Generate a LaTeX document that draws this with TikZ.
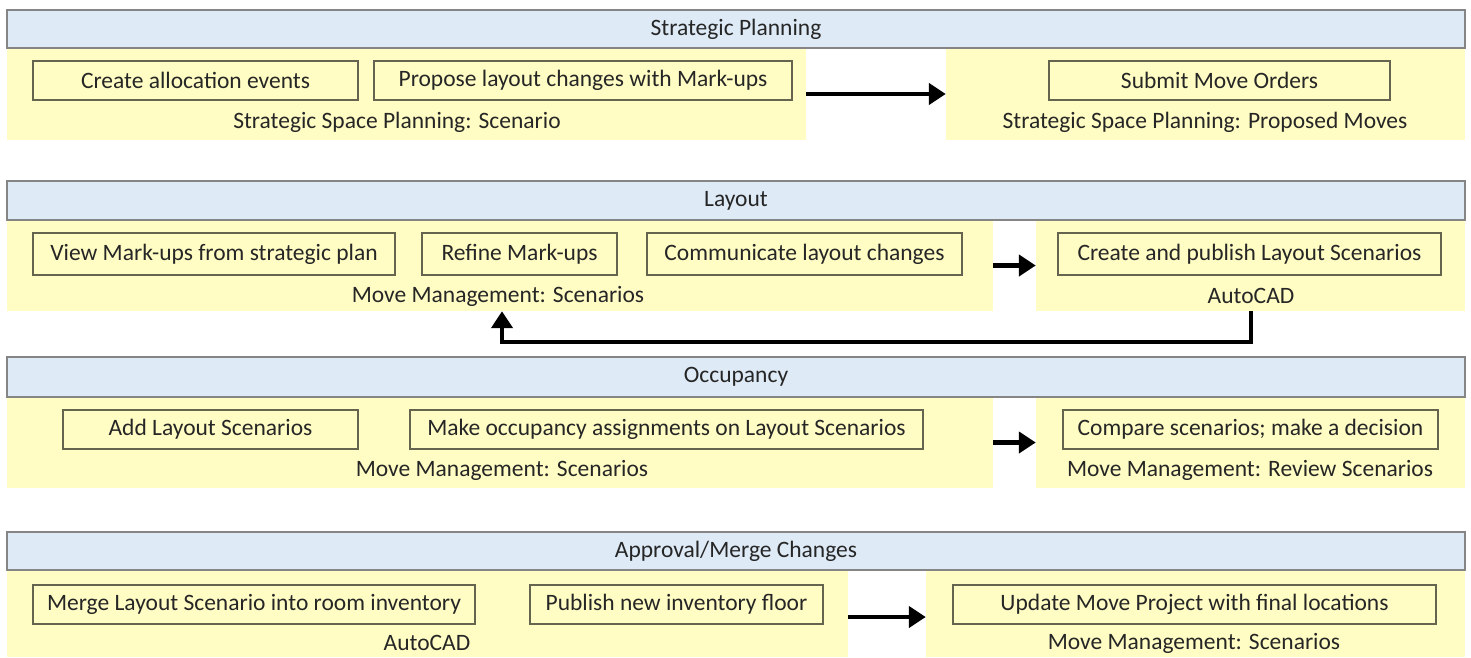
\documentclass[tikz,border=0pt]{standalone}
\usepackage{fontspec}
\setmainfont{Carlito}
\usetikzlibrary{arrows.meta}
\definecolor{hdrblue}{HTML}{DEEAF6}
\definecolor{hdrline}{HTML}{858585}
\definecolor{bandyellow}{HTML}{FFFDC4}
\definecolor{boxline}{HTML}{65654F}
\definecolor{txt}{HTML}{262626}
\tikzset{
  fnt/.style={font=\fontsize{23.5}{26}\selectfont},
  hdr/.style={draw=hdrline, line width=1.6pt, fill=hdrblue, inner sep=0pt, text=txt, fnt},
  band/.style={fill=bandyellow, draw=none, inner sep=0pt},
  task/.style={draw=boxline, line width=1.3pt, fill=bandyellow, inner sep=0pt, text=txt, fnt},
  lbl/.style={inner sep=1pt, text=txt, fnt},
  flow/.style={line width=4.8pt, -{Triangle[length=17pt,width=21pt]}},
}
% \rectnode{style}{name}{x1}{y1}{x2}{y2}{text}
\newcommand\rectnode[7]{%
  \node[#1, minimum width={(#5-#3)*1pt}, minimum height={(#6-#4)*1pt}] (#2) at ({(#3+#5)/2},{(#4+#6)/2}) {#7};}
\begin{document}
\begin{tikzpicture}[x=1pt,y=-1pt]
\useasboundingbox (0,0) rectangle (1471,657);
% ---------- Section 1
\rectnode{band}{b1l}{7}{48}{806}{140}{}
\rectnode{band}{b1r}{946}{48}{1465}{140}{}
\rectnode{hdr}{h1}{7}{10}{1465}{48}{Strategic Planning}
\rectnode{task}{t11}{33}{61}{358}{100}{Create allocation events}
\rectnode{task}{t12}{374}{61}{792}{100}{Propose layout changes with Mark-ups}
\rectnode{task}{t13}{1049}{61}{1390}{100}{Submit Move Orders}
\node[lbl] (l11) at (397,122) {Strategic Space Planning: Scenario};
\node[lbl] (l12) at (1205,122) {Strategic Space Planning: Proposed Moves};
\draw[flow] (b1l.east) -- (b1r.west);
% ---------- Section 2
\rectnode{band}{b2l}{7}{220}{993}{311}{}
\rectnode{band}{b2r}{1036}{220}{1465}{311}{}
\rectnode{hdr}{h2}{7}{181}{1465}{220}{Layout}
\rectnode{task}{t21}{33}{233}{395}{275}{View Mark-ups from strategic plan}
\rectnode{task}{t22}{422}{233}{617}{275}{Refine Mark-ups}
\rectnode{task}{t23}{647}{233}{962}{275}{Communicate layout changes}
\rectnode{task}{t24}{1058}{233}{1441}{275}{Create and publish Layout Scenarios}
\node[lbl] (l21) at (498,296) {Move Management: Scenarios};
\node[lbl] (l22) at (1251,296) {AutoCAD};
\draw[flow] (b2l.east) -- (b2r.west);
\coordinate (fb) at (502,342);
\draw[flow] (b2r.south -| l22) |- (fb) -- (b2l.south -| fb);
% ---------- Section 3
\rectnode{band}{b3l}{7}{397}{993}{488}{}
\rectnode{band}{b3r}{1036}{397}{1465}{488}{}
\rectnode{hdr}{h3}{7}{357}{1465}{397}{Occupancy}
\rectnode{task}{t31}{63}{410}{358}{449}{Add Layout Scenarios}
\rectnode{task}{t32}{410}{410}{923}{449}{Make occupancy assignments on Layout Scenarios}
\rectnode{task}{t33}{1063}{410}{1438}{449}{Compare scenarios; make a decision}
\node[lbl] (l31) at (502,470) {Move Management: Scenarios};
\node[lbl] (l32) at (1250,470) {Move Management: Review Scenarios};
\draw[flow] (b3l.east) -- (b3r.west);
% ---------- Section 4
\rectnode{band}{b4l}{7}{570}{848}{657}{}
\rectnode{band}{b4r}{926}{570}{1465}{657}{}
\rectnode{hdr}{h4}{7}{532}{1465}{570}{Approval/Merge Changes}
\rectnode{task}{t41}{33}{585}{475}{624}{Merge Layout Scenario into room inventory}
\rectnode{task}{t42}{530}{585}{823}{624}{Publish new inventory floor}
\rectnode{task}{t43}{953}{585}{1436}{624}{Update Move Project with final locations}
\node[lbl] (l41) at (427,643) {AutoCAD};
\node[lbl] (l42) at (1194,643) {Move Management: Scenarios};
\draw[flow] (b4l.east |- 0,617) -- (b4r.west |- 0,617);
\end{tikzpicture}
\end{document}
